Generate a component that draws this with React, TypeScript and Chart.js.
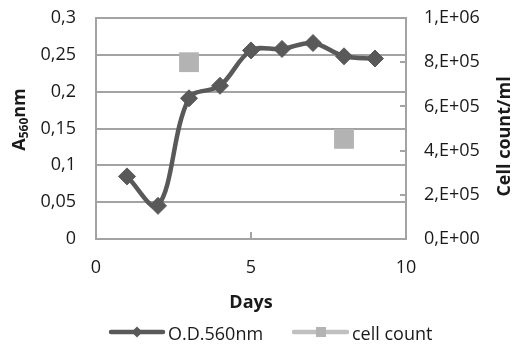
import React, { useEffect, useRef } from 'react';
import { Chart, registerables } from 'chart.js';

Chart.register(...registerables);

// ---- data ----
const days = [1, 2, 3, 4, 5, 6, 7, 8, 9];
const odValues = [0.085, 0.045, 0.191, 0.208, 0.256, 0.258, 0.266, 0.248, 0.245];
const cellDays = [3, 8];
const cellCounts = [800000, 453000];
const seriesNames = ['O.D.560nm', 'cell count'];
const xTitle = 'Days';
const rightTitle = 'Cell count/ml';
const leftTitleParts = ['A', '560', 'nm'];

const FONT = "'Open Sans', 'DejaVu Sans', sans-serif";
const GRID = '#a3a3a3';
const TEXT = '#1a1a1a';
const OD_COLOR = '#595959';
const CELL_COLOR = '#b3b3b3';
const CELL_LEGEND = '#c0c0c0';

function fmtLeft(v: number): string {
  const r = Math.round(v * 1000) / 1000;
  return String(r).replace('.', ',');
}
function fmtRight(v: number): string {
  if (Math.abs(v) < 1e-9) return '0,E+00';
  const e = Math.floor(Math.log10(v) + 1e-9);
  const m = Math.round(v / Math.pow(10, e));
  return `${m},E+${String(e).padStart(2, '0')}`;
}

const decorPlugin = {
  id: 'decor',
  afterDatasetsDraw(chart: any) {
    const ctx = chart.ctx as CanvasRenderingContext2D;
    const { chartArea } = chart;
    const y1 = chart.scales.y1;
    const x = chart.scales.x;
    ctx.save();
    ctx.strokeStyle = GRID;
    ctx.lineWidth = 2;
    // inward ticks on right axis
    y1.ticks.forEach((t: any) => {
      const py = Math.round(y1.getPixelForValue(t.value));
      ctx.beginPath();
      ctx.moveTo(chartArea.right - 6, py);
      ctx.lineTo(chartArea.right, py);
      ctx.stroke();
    });
    // inward ticks on x axis
    x.ticks.forEach((t: any) => {
      const px = Math.round(x.getPixelForValue(t.value));
      ctx.beginPath();
      ctx.moveTo(px, chartArea.bottom - 7);
      ctx.lineTo(px, chartArea.bottom);
      ctx.stroke();
    });
    ctx.restore();
  },
  afterDraw(chart: any) {
    const ctx = chart.ctx as CanvasRenderingContext2D;
    const { chartArea, width } = chart;
    const midY = (chartArea.top + chartArea.bottom) / 2;

    // left title with subscript
    ctx.save();
    ctx.fillStyle = TEXT;
    ctx.textBaseline = 'alphabetic';
    ctx.translate(25, midY - 9);
    ctx.rotate(-Math.PI / 2);
    const big = `bold 18px ${FONT}`;
    const small = `bold 12px ${FONT}`;
    ctx.font = big;
    const wA = ctx.measureText(leftTitleParts[0]).width;
    const wN = ctx.measureText(leftTitleParts[2]).width;
    ctx.font = small;
    const wS = ctx.measureText(leftTitleParts[1]).width;
    let cx = -(wA + wS + wN) / 2;
    ctx.font = big;
    ctx.fillText(leftTitleParts[0], cx, 0);
    cx += wA;
    ctx.font = small;
    ctx.fillText(leftTitleParts[1], cx, 3);
    cx += wS;
    ctx.font = big;
    ctx.fillText(leftTitleParts[2], cx, 0);
    ctx.restore();

    // right title
    ctx.save();
    ctx.fillStyle = TEXT;
    ctx.font = `bold 18px ${FONT}`;
    ctx.textBaseline = 'alphabetic';
    ctx.textAlign = 'center';
    ctx.translate(width - 2, midY + 8);
    ctx.rotate(-Math.PI / 2);
    ctx.fillText(rightTitle, 0, 0);
    ctx.restore();

    // legend
    const ly = 332;
    ctx.save();
    ctx.lineCap = 'round';
    ctx.lineWidth = 4.5;
    ctx.strokeStyle = OD_COLOR;
    ctx.beginPath();
    ctx.moveTo(111, ly);
    ctx.lineTo(163, ly);
    ctx.stroke();
    ctx.fillStyle = OD_COLOR;
    ctx.beginPath();
    ctx.moveTo(137, ly - 5.5);
    ctx.lineTo(142.5, ly);
    ctx.lineTo(137, ly + 5.5);
    ctx.lineTo(131.5, ly);
    ctx.closePath();
    ctx.fill();

    ctx.strokeStyle = CELL_LEGEND;
    ctx.beginPath();
    ctx.moveTo(294, ly);
    ctx.lineTo(347, ly);
    ctx.stroke();
    ctx.fillStyle = CELL_COLOR;
    ctx.fillRect(316, ly - 5, 10, 10);

    ctx.fillStyle = TEXT;
    ctx.font = `18px ${FONT}`;
    ctx.textBaseline = 'alphabetic';
    ctx.textAlign = 'left';
    ctx.fillText(seriesNames[0], 168, 340);
    ctx.fillText(seriesNames[1], 352, 340);
    ctx.restore();
  },
};

export default function App() {
  const ref = useRef<HTMLCanvasElement | null>(null);

  useEffect(() => {
    document.body.style.margin = '0';
    const canvas = ref.current;
    if (!canvas) return;
    const chart = new Chart(canvas, {
      type: 'scatter',
      data: {
        datasets: [
          {
            label: seriesNames[0],
            data: days.map((d, i) => ({ x: d, y: odValues[i] })),
            yAxisID: 'y',
            showLine: true,
            borderColor: OD_COLOR,
            backgroundColor: OD_COLOR,
            borderWidth: 4.5,
            tension: 0.35,
            pointStyle: 'rectRot',
            pointRadius: 8.5,
            pointBorderWidth: 1,
            pointBackgroundColor: OD_COLOR,
            pointBorderColor: OD_COLOR,
          },
          {
            label: seriesNames[1],
            data: cellDays.map((d, i) => ({ x: d, y: cellCounts[i] })),
            yAxisID: 'y1',
            showLine: false,
            pointStyle: 'rect',
            pointRadius: 14,
            pointBorderWidth: 0,
            pointBackgroundColor: CELL_COLOR,
            backgroundColor: CELL_COLOR,
            borderColor: CELL_COLOR,
          },
        ],
      },
      options: {
        responsive: false,
        animation: false,
        layout: { autoPadding: false, padding: { top: 18, left: 0, right: 0, bottom: 33 } },
        plugins: {
          legend: { display: false },
          tooltip: { enabled: false },
        },
        scales: {
          x: {
            type: 'linear',
            min: 0,
            max: 10,
            ticks: {
              stepSize: 5,
              color: TEXT,
              font: { family: FONT, size: 18 },
              padding: 18,
              maxRotation: 0,
            },
            grid: { drawOnChartArea: false, drawTicks: false },
            border: { display: true, color: GRID, width: 2 },
            title: {
              display: true,
              text: xTitle,
              color: TEXT,
              font: { family: FONT, size: 18, weight: 'bold' },
              padding: 0,
            },
            afterFit: (s: any) => {
              s.height = 75;
              s.paddingLeft = 0;
              s.paddingRight = 0;
            },
          },
          y: {
            type: 'linear',
            position: 'left',
            min: 0,
            max: 0.3,
            ticks: {
              stepSize: 0.05,
              color: TEXT,
              font: { family: FONT, size: 18 },
              padding: 20,
              callback: (v: any) => fmtLeft(Number(v)),
            },
            grid: { color: GRID, lineWidth: 2, drawTicks: false },
            border: { display: true, color: GRID, width: 2 },
            afterFit: (s: any) => {
              s.width = 96;
              s.paddingTop = 0;
              s.paddingBottom = 0;
            },
          },
          y1: {
            type: 'linear',
            position: 'right',
            min: 0,
            max: 1000000,
            ticks: {
              stepSize: 200000,
              color: TEXT,
              font: { family: FONT, size: 18 },
              padding: 18,
              callback: (v: any) => fmtRight(Number(v)),
            },
            grid: { drawOnChartArea: false, drawTicks: false },
            border: { display: true, color: GRID, width: 2 },
            afterFit: (s: any) => {
              s.width = 106;
              s.paddingTop = 0;
              s.paddingBottom = 0;
            },
          },
        },
      },
      plugins: [decorPlugin],
    } as any);
    return () => chart.destroy();
  }, []);

  return (
    <div style={{ width: 512, height: 347 }}>
      <canvas ref={ref} width={512} height={347} style={{ display: 'block' }} />
    </div>
  );
}
